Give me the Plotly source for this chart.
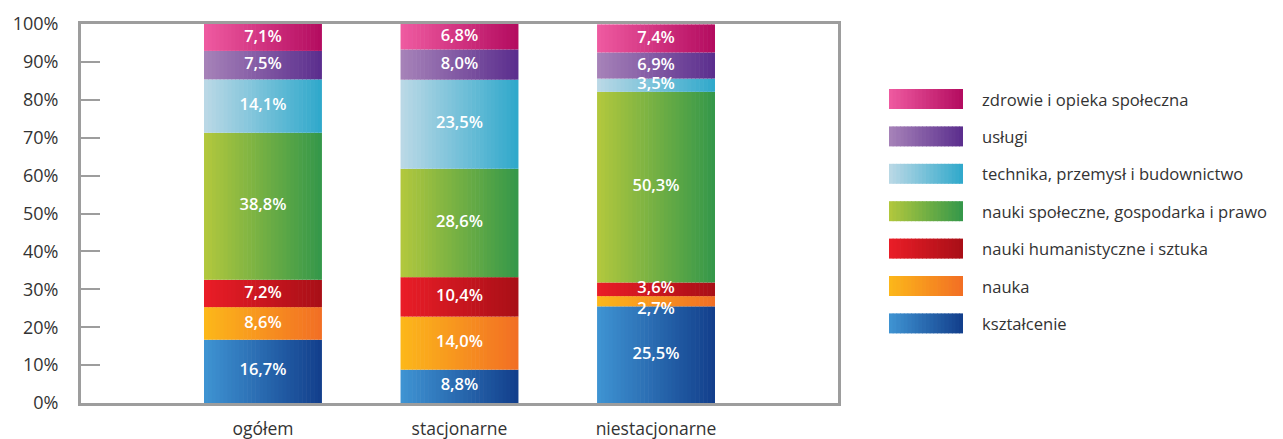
import plotly.graph_objects as go
import numpy as np

categories = ["ogółem", "stacjonarne", "niestacjonarne"]

series_names = [
    "kształcenie",
    "nauka",
    "nauki humanistyczne i sztuka",
    "nauki społeczne, gospodarka i prawo",
    "technika, przemysł i budownictwo",
    "usługi",
    "zdrowie i opieka społeczna",
]

ksztalcenie = [16.7, 8.8, 25.5]
nauka = [8.6, 14.0, 2.7]
humanistyczne = [7.2, 10.4, 3.6]
spoleczne = [38.8, 28.6, 50.3]
technika = [14.1, 23.5, 3.5]
uslugi = [7.5, 8.0, 6.9]
zdrowie = [7.1, 6.8, 7.4]

series_values = [ksztalcenie, nauka, humanistyczne, spoleczne, technika, uslugi, zdrowie]

# gradient colours (left -> right)
grad_left = ["#3f94d3", "#fcb81a", "#ea1d27", "#b3c83d", "#bcd9e6", "#a783b9", "#ef5ba1"]
grad_right = ["#123e8b", "#f26e24", "#a80f17", "#33974a", "#2ea8cb", "#5a2d8d", "#b30b5f"]

tick_vals = list(range(0, 101, 10))
tick_text = [f"{v}%" for v in tick_vals]

# ---------------------------------------------------------------
def hex2rgb(h):
    h = h.lstrip("#")
    return tuple(int(h[i:i + 2], 16) for i in (0, 2, 4))


def mix(c1, c2, t):
    a, b = hex2rgb(c1), hex2rgb(c2)
    r = [round(a[k] + (b[k] - a[k]) * t) for k in range(3)]
    return f"rgb({r[0]},{r[1]},{r[2]})"


N = 30
BAR_W = 0.6
strip = BAR_W / N

fig = go.Figure()
vals = np.array(series_values)
bases = np.vstack([np.zeros(len(categories)), np.cumsum(vals, axis=0)[:-1]])

for s, name in enumerate(series_names):
    for i in range(N):
        t = (i + 0.5) / N
        w = strip * (1.15 if i < N - 1 else 1.0)
        fig.add_trace(go.Bar(
            x=categories, y=vals[s], base=bases[s],
            width=w, offset=-BAR_W / 2 + i * strip,
            marker=dict(color=mix(grad_left[s], grad_right[s], t), line=dict(width=0)),
            showlegend=False, hoverinfo="skip",
        ))

# value labels (very thin segments: label nudged just below their centre)
for s in range(len(series_names)):
    mids = bases[s] + vals[s] / 2
    positions = ["bottom center" if (v < 3.0) else "middle center" for v in vals[s]]
    fig.add_trace(go.Scatter(
        x=categories, y=mids, mode="text",
        text=[f"{v:.1f}".replace(".", ",") + "%" for v in vals[s]],
        textposition=positions,
        textfont=dict(family="Open Sans", size=16.5, color="white", weight=600),
        showlegend=False, hoverinfo="skip",
    ))

# layout geometry: page pixels; the page body adds an 8px offset
OFF = 8
W, H = 1283 - OFF, 439 - OFF
L, R, T, B = 81 - OFF, 838 - OFF, 24 - OFF, 403 - OFF
pw = R - L
ph = B - T

def px2paper_x(px):
    return (px - OFF - L) / pw

def px2paper_y(py):
    return (B - (py - OFF)) / ph

# manual legend (top = zdrowie)
shapes = []
annotations = []
sw_x0, sw_x1 = 889, 963
row_y0 = 99
row_dy = 37.4
order = list(range(len(series_names)))[::-1]
NS = 20
for r, s in enumerate(order):
    cy = row_y0 + r * row_dy
    y0p = px2paper_y(cy + 10)
    y1p = px2paper_y(cy - 10)
    sw = (sw_x1 - sw_x0) / NS
    for i in range(NS):
        t = (i + 0.5) / NS
        x0 = sw_x0 + i * sw
        x1 = x0 + sw * (1.2 if i < NS - 1 else 1.0)
        shapes.append(dict(
            type="rect", xref="paper", yref="paper",
            x0=px2paper_x(x0), x1=px2paper_x(x1), y0=y0p, y1=y1p,
            fillcolor=mix(grad_left[s], grad_right[s], t), line=dict(width=0),
            layer="above",
        ))
    annotations.append(dict(
        xref="paper", yref="paper", x=px2paper_x(980), y=px2paper_y(cy),
        xanchor="left", yanchor="middle", showarrow=False,
        text=series_names[s], font=dict(family="Open Sans", size=16.6, color="#333333"),
    ))

fig.update_layout(
    width=W, height=H,
    margin=dict(l=L, r=W - R, t=T, b=H - B, autoexpand=False),
    barmode="overlay",
    plot_bgcolor="white", paper_bgcolor="white",
    showlegend=False,
    shapes=shapes, annotations=annotations,
    font=dict(family="Open Sans", color="#333333"),
)
fig.update_xaxes(
    type="category", range=[-0.926, 2.926], automargin=False,
    showgrid=False, showline=True, linecolor="#9d9d9d", linewidth=3, mirror=True,
    ticks="", tickfont=dict(size=17.5, color="#333333"), ticklabelstandoff=8,
)
fig.update_yaxes(
    range=[0, 100], tickvals=tick_vals, ticktext=tick_text, automargin=False,
    showgrid=False, zeroline=False, showline=True, linecolor="#9d9d9d", linewidth=3, mirror=True,
    ticks="inside", ticklen=19, tickwidth=2, tickcolor="#9d9d9d",
    tickfont=dict(size=18, color="#333333"), ticklabelstandoff=16,
)

fig.write_html("out.html")
